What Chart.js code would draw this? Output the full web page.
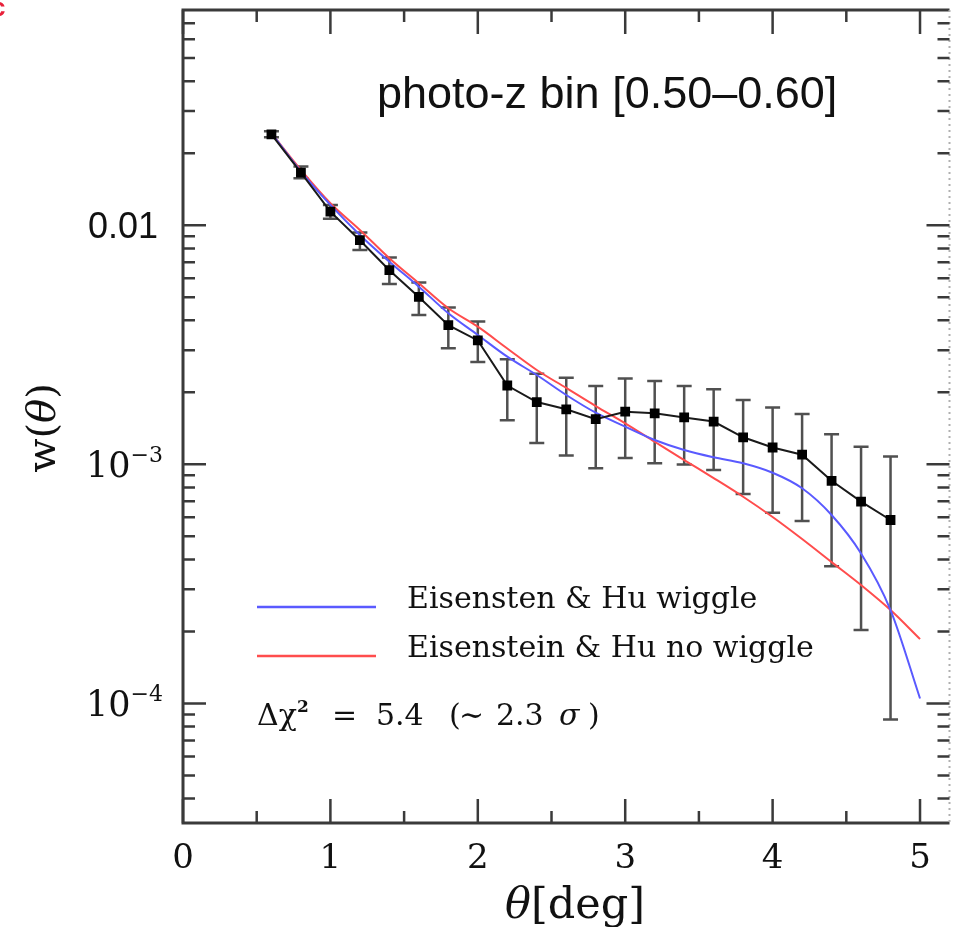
<!DOCTYPE html>
<html>
<head>
<meta charset="utf-8">
<script src="https://cdn.jsdelivr.net/npm/chart.js@4.4.0/dist/chart.umd.min.js"></script>
<style>
  html, body { margin: 0; padding: 0; background: #fff; }
  canvas { display: block; }
</style>
</head>
<body>
<canvas id="chart" width="957" height="927"></canvas>
<script>
// measured angular correlation, photo-z bin [0.50-0.60]
const thetaData = [0.6, 0.8, 1.0, 1.2, 1.4, 1.6, 1.8, 2.0, 2.2, 2.4, 2.6, 2.8, 3.0, 3.2, 3.4, 3.6, 3.8, 4.0, 4.2, 4.4, 4.6, 4.8];
const wData = [0.02398, 0.01660, 0.01140, 0.008654, 0.006482, 0.005012, 0.003819, 0.003296, 0.002136, 0.001822, 0.001699, 0.001544, 0.001660, 0.001634, 0.001570, 0.001510, 0.001297, 0.001176, 0.001097, 0.000853, 0.000698, 0.000585];
const wHigh = [0.02469, 0.01758, 0.01216, 0.009330, 0.007334, 0.005763, 0.004530, 0.003952, 0.002749, 0.002393, 0.002301, 0.002126, 0.002283, 0.002231, 0.002126, 0.002060, 0.001858, 0.001728, 0.001624, 0.001336, 0.001185, 0.001078];
const wLow = [0.02330, 0.01573, 0.01063, 0.007880, 0.005680, 0.004213, 0.003058, 0.002679, 0.001528, 0.001228, 0.001088, 0.000962, 0.001063, 0.001010, 0.000998, 0.000947, 0.000751, 0.000627, 0.000579, 0.000375, 0.000203, 0.0000857];

// model curves
const thetaModel = [0.6, 0.8, 1.0, 1.2, 1.4, 1.6, 1.8, 2.0, 2.2, 2.4, 2.6, 2.8, 3.0, 3.2, 3.4, 3.6, 3.8, 4.0, 4.2, 4.4, 4.6, 4.8, 5.0];
const wWiggle = [0.02426, 0.01676, 0.01216, 0.009108, 0.007041, 0.005535, 0.004283, 0.003475, 0.002819, 0.002363, 0.001950, 0.001644, 0.001437, 0.001264, 0.001148, 0.001070, 0.001010, 0.000922, 0.000794, 0.000614, 0.000424, 0.0002458, 0.0001049];
const wNoWiggle = [0.02426, 0.01703, 0.01236, 0.009557, 0.007275, 0.005718, 0.004495, 0.003764, 0.003051, 0.002481, 0.002086, 0.001753, 0.001484, 0.001243, 0.001042, 0.000876, 0.000732, 0.000602, 0.000487, 0.000390, 0.0003126, 0.0002458, 0.0001858];

// axes
const xMajorTicks = [0, 1, 2, 3, 4, 5];
const xMinorTicks = [0.5, 1.5, 2.5, 3.5, 4.5];
const yMajorTicks = [1e-4, 1e-3, 1e-2];
const yMajorLabels = [["10", "−4"], ["10", "−3"], ["0.01", null]];

const legendLabels = ["Eisensten & Hu wiggle", "Eisenstein & Hu no wiggle"];

const SERIF = '"DejaVu Serif", serif';
const SANS = '"Liberation Sans", Arial, sans-serif';
const FRAME = "#3a3a3a";

const toPoints = (xs, ys) => xs.map((x, i) => ({ x: x, y: ys[i] }));

const errorBars = {
    id: "errorBars",
    beforeDatasetsDraw(chart) {
        const { ctx, scales: { x, y } } = chart;
        ctx.save();
        ctx.strokeStyle = "#505050";
        ctx.lineWidth = 2.5;
        thetaData.forEach((t, i) => {
            const px = x.getPixelForValue(t);
            const top = y.getPixelForValue(wHigh[i]);
            const bot = y.getPixelForValue(wLow[i]);
            ctx.beginPath();
            ctx.moveTo(px, top);
            ctx.lineTo(px, bot);
            ctx.moveTo(px - 7.5, top);
            ctx.lineTo(px + 7.5, top);
            ctx.moveTo(px - 7.5, bot);
            ctx.lineTo(px + 7.5, bot);
            ctx.stroke();
        });
        ctx.restore();
    },
};

const frameAndText = {
    id: "frameAndText",
    afterDraw(chart) {
        const { ctx, chartArea: a, scales: { x, y } } = chart;
        ctx.save();

        // frame
        ctx.strokeStyle = FRAME;
        ctx.lineWidth = 3;
        ctx.beginPath();
        ctx.moveTo(a.right, a.top);
        ctx.lineTo(a.left, a.top);
        ctx.lineTo(a.left, a.bottom);
        ctx.lineTo(a.right, a.bottom);
        ctx.stroke();
        ctx.save();
        ctx.strokeStyle = "#b0b0b0";
        ctx.lineWidth = 2;
        ctx.setLineDash([2, 4]);
        ctx.beginPath();
        ctx.moveTo(a.right, a.top);
        ctx.lineTo(a.right, a.bottom);
        ctx.stroke();
        ctx.restore();

        // inward ticks
        ctx.lineWidth = 2.5;
        const xTick = (v, len) => {
            const px = x.getPixelForValue(v);
            ctx.beginPath();
            ctx.moveTo(px, a.bottom);
            ctx.lineTo(px, a.bottom - len);
            ctx.moveTo(px, a.top);
            ctx.lineTo(px, a.top + len);
            ctx.stroke();
        };
        const yTick = (v, len) => {
            const py = y.getPixelForValue(v);
            ctx.beginPath();
            ctx.moveTo(a.left, py);
            ctx.lineTo(a.left + len, py);
            ctx.moveTo(a.right, py);
            ctx.lineTo(a.right - len, py);
            ctx.stroke();
        };
        xMajorTicks.forEach(v => xTick(v, 24));
        xMinorTicks.forEach(v => xTick(v, 12));
        yMajorTicks.forEach(v => yTick(v, 23));
        for (let e = -5; e <= -1; e++) {
            for (let k = 2; k <= 9; k++) {
                const v = k * Math.pow(10, e);
                if (v > y.min && v < y.max) yTick(v, 12);
            }
        }

        ctx.fillStyle = "#111";

        // x tick labels
        ctx.font = `34px ${SERIF}`;
        ctx.textAlign = "center";
        ctx.textBaseline = "alphabetic";
        xMajorTicks.forEach(v => {
            ctx.fillText(String(v), x.getPixelForValue(v), a.bottom + 45);
        });

        // y tick labels
        yMajorTicks.forEach((v, i) => {
            const py = y.getPixelForValue(v);
            const [base, sup] = yMajorLabels[i];
            ctx.textAlign = "right";
            if (sup === null) {
                ctx.font = `36px ${SANS}`;
                ctx.fillText(base, 158, py + 13);
            } else {
                ctx.font = `22px ${SERIF}`;
                const supW = ctx.measureText(sup).width;
                ctx.fillText(sup, 163, py - 2);
                ctx.font = `35px ${SERIF}`;
                ctx.fillText(base, 163 - supW, py + 13);
            }
        });

        // axis titles
        ctx.textAlign = "left";
        ctx.font = `italic 43px ${SERIF}`;
        const thW = ctx.measureText("θ").width;
        ctx.font = `43px ${SERIF}`;
        const restW = ctx.measureText("[deg]").width;
        const startX = 575 - (thW + restW) / 2;
        ctx.font = `italic 43px ${SERIF}`;
        ctx.fillText("θ", startX, 918);
        ctx.font = `43px ${SERIF}`;
        ctx.fillText("[deg]", startX + thW, 918);

        ctx.save();
        ctx.translate(55, 428);
        ctx.rotate(-Math.PI / 2);
        ctx.font = `40px ${SERIF}`;
        const wW = ctx.measureText("w(").width;
        const pW = ctx.measureText(")").width;
        ctx.font = `italic 40px ${SERIF}`;
        const tW = ctx.measureText("θ").width;
        let tx = -(wW + tW + pW) / 2;
        ctx.font = `40px ${SERIF}`;
        ctx.fillText("w(", tx, 0);
        ctx.font = `italic 40px ${SERIF}`;
        ctx.fillText("θ", tx + wW, 0);
        ctx.font = `40px ${SERIF}`;
        ctx.fillText(")", tx + wW + tW, 0);
        ctx.restore();

        // panel label
        ctx.textAlign = "left";
        ctx.font = `45px ${SANS}`;
        ctx.fillText("photo-z bin [0.50–0.60]", 377, 108);

        // legend
        const legendColors = ["#5a5aff", "#ff4d4d"];
        const legendY = [608, 657];
        legendLabels.forEach((label, i) => {
            ctx.strokeStyle = legendColors[i];
            ctx.lineWidth = 2.5;
            ctx.beginPath();
            ctx.moveTo(257, legendY[i] - 1);
            ctx.lineTo(376, legendY[i] - 1);
            ctx.stroke();
            ctx.font = `30px ${SERIF}`;
            ctx.fillText(label, 407, legendY[i]);
        });

        // chi-square note, spaced like the original
        const chiY = 725;
        ctx.font = `30px ${SERIF}`;
        ctx.fillText("Δχ", 257, chiY);
        ctx.font = `bold 17px ${SERIF}`;
        ctx.fillText("2", 297, chiY - 13);
        ctx.font = `30px ${SERIF}`;
        ctx.fillText("=", 332, chiY);
        ctx.fillText("5.4", 376, chiY);
        ctx.fillText("(", 449, chiY);
        ctx.fillText("∼", 459, chiY);
        ctx.fillText("2.3", 496, chiY);
        ctx.font = `italic 30px ${SERIF}`;
        ctx.fillText("σ", 559, chiY);
        ctx.font = `30px ${SERIF}`;
        ctx.fillText(")", 588, chiY);

        // stray red mark at the corner of the original scan
        ctx.fillStyle = "#e8203a";
        ctx.font = `bold 26px ${SANS}`;
        ctx.fillText("c", -9, 16);

        ctx.restore();
    },
};

new Chart(document.getElementById("chart"), {
    type: "line",
    data: {
        datasets: [
            {
                label: "data",
                data: toPoints(thetaData, wData),
                borderColor: "#1a1a1a",
                borderWidth: 2,
                pointStyle: "rect",
                pointRadius: 5.5,
                pointBackgroundColor: "#000",
                pointBorderColor: "#000",
                tension: 0,
            },
            {
                label: legendLabels[0],
                data: toPoints(thetaModel, wWiggle),
                borderColor: "#5a5aff",
                borderWidth: 2,
                pointRadius: 0,
                cubicInterpolationMode: "monotone",
            },
            {
                label: legendLabels[1],
                data: toPoints(thetaModel, wNoWiggle),
                borderColor: "#ff4d4d",
                borderWidth: 2,
                pointRadius: 0,
                cubicInterpolationMode: "monotone",
            },
        ],
    },
    options: {
        responsive: false,
        animation: false,
        devicePixelRatio: 1,
        layout: { padding: { left: 183, right: 2, top: 10, bottom: 104 } },
        plugins: {
            legend: { display: false },
            tooltip: { enabled: false },
        },
        scales: {
            x: { type: "linear", min: 0, max: 5.2, display: false },
            y: { type: "logarithmic", min: Math.pow(10, -4.5), max: Math.pow(10, -1.1), display: false },
        },
    },
    plugins: [errorBars, frameAndText],
});
</script>
</body>
</html>
